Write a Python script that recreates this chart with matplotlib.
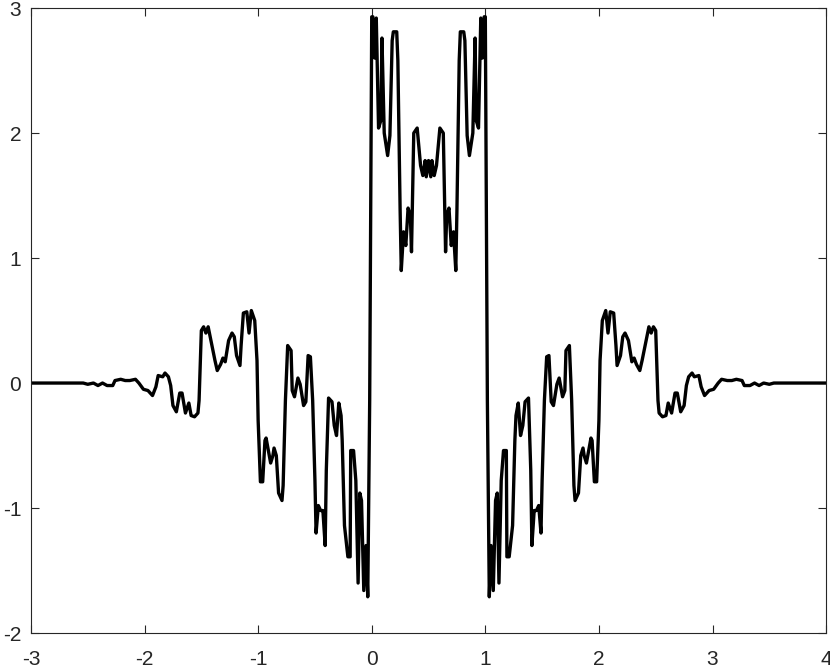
import matplotlib
matplotlib.use("Agg")
import matplotlib.pyplot as plt

# curve, left half (x from -3 to 0.5)
x_left = [-3.0, -2.54, -2.50, -2.45, -2.41, -2.37, -2.33, -2.28, -2.26, -2.21,
          -2.17, -2.13, -2.08, -2.05, -2.01, -1.97, -1.93, -1.90, -1.88, -1.84,
          -1.82, -1.79, -1.77, -1.75, -1.72, -1.69, -1.67, -1.64, -1.61, -1.59,
          -1.56, -1.53, -1.52, -1.50, -1.48, -1.46, -1.44, -1.42, -1.38, -1.36,
          -1.33, -1.31, -1.29, -1.26, -1.23, -1.21, -1.19, -1.16, -1.15, -1.13,
          -1.10, -1.08, -1.06, -1.03, -1.01, -1.00, -0.98, -0.96, -0.94, -0.93,
          -0.91, -0.89, -0.87, -0.86, -0.84, -0.82, -0.79, -0.78, -0.76, -0.74,
          -0.71, -0.70, -0.68, -0.65, -0.63, -0.60, -0.58, -0.56, -0.54, -0.52,
          -0.50, -0.49, -0.47, -0.45, -0.43, -0.41, -0.40, -0.38, -0.35, -0.33,
          -0.31, -0.29, -0.27, -0.26, -0.24, -0.21, -0.19, -0.185, -0.16, -0.14,
          -0.12, -0.105, -0.09, -0.07, -0.05, -0.035, -0.018, 0.0, 0.01, 0.026,
          0.04, 0.06, 0.08, 0.09, 0.11, 0.12, 0.14, 0.16, 0.18, 0.19,
          0.22, 0.23, 0.25, 0.26, 0.28, 0.30, 0.32, 0.34, 0.35, 0.37,
          0.40, 0.41, 0.43, 0.45, 0.47, 0.48, 0.50]
y_left = [0.0, 0.0, -0.01, 0.0, -0.02, 0.0, -0.02, -0.02, 0.02, 0.03,
          0.02, 0.02, 0.03, 0.0, -0.05, -0.06, -0.10, -0.03, 0.06, 0.05,
          0.08, 0.05, -0.02, -0.18, -0.23, -0.08, -0.08, -0.24, -0.16, -0.26,
          -0.27, -0.24, -0.14, 0.42, 0.45, 0.40, 0.45, 0.36, 0.18, 0.10,
          0.15, 0.20, 0.17, 0.34, 0.40, 0.37, 0.22, 0.14, 0.30, 0.56,
          0.57, 0.40, 0.58, 0.50, 0.18, -0.30, -0.79, -0.79, -0.46, -0.44,
          -0.54, -0.64, -0.58, -0.52, -0.58, -0.88, -0.94, -0.82, -0.14, 0.30,
          0.26, -0.06, -0.11, 0.04, -0.01, -0.18, -0.15, 0.22, 0.21, -0.14,
          -0.78, -1.20, -0.98, -1.02, -1.02, -1.30, -0.70, -0.12, -0.15, -0.34,
          -0.42, -0.16, -0.26, -0.46, -1.14, -1.39, -1.39, -0.54, -0.54, -0.78,
          -1.60, -0.88, -0.94, -1.66, -1.30, -1.71, -0.14, 2.93, 2.93, 2.60,
          2.92, 2.04, 2.10, 2.76, 2.00, 1.94, 1.82, 1.98, 2.74, 2.81,
          2.81, 2.58, 1.38, 0.90, 1.21, 1.10, 1.40, 1.34, 1.05, 2.00,
          2.04, 1.94, 1.74, 1.66, 1.78, 1.65, 1.78]

# right half (x from 0.5 to 4), the same shape seen mirrored about x = 0.5
x_right = [0.52, 0.53, 0.55, 0.57, 0.59, 0.60, 0.63, 0.65, 0.66, 0.68,
           0.70, 0.72, 0.74, 0.75, 0.77, 0.78, 0.81, 0.82, 0.84, 0.86,
           0.88, 0.89, 0.91, 0.92, 0.94, 0.96, 0.974, 0.99, 1.0, 1.018,
           1.035, 1.05, 1.07, 1.09, 1.105, 1.12, 1.14, 1.16, 1.185, 1.19,
           1.21, 1.24, 1.26, 1.27, 1.29, 1.31, 1.33, 1.35, 1.38, 1.40,
           1.41, 1.43, 1.45, 1.47, 1.49, 1.50, 1.52, 1.54, 1.56, 1.58,
           1.60, 1.63, 1.65, 1.68, 1.70, 1.71, 1.74, 1.76, 1.78, 1.79,
           1.82, 1.84, 1.86, 1.87, 1.89, 1.91, 1.93, 1.94, 1.96, 1.98,
           2.00, 2.01, 2.03, 2.06, 2.08, 2.10, 2.13, 2.15, 2.16, 2.19,
           2.21, 2.23, 2.26, 2.29, 2.31, 2.33, 2.36, 2.38, 2.42, 2.44,
           2.46, 2.48, 2.50, 2.52, 2.53, 2.56, 2.59, 2.61, 2.64, 2.67,
           2.69, 2.72, 2.75, 2.77, 2.79, 2.82, 2.84, 2.88, 2.90, 2.93,
           2.97, 3.01, 3.05, 3.08, 3.13, 3.17, 3.21, 3.26, 3.28, 3.33,
           3.37, 3.41, 3.45, 3.50, 3.54, 4.0]
y_right = [1.65, 1.78, 1.66, 1.74, 1.94, 2.04, 2.00, 1.05, 1.34, 1.40,
           1.10, 1.21, 0.90, 1.38, 2.58, 2.81, 2.81, 2.74, 1.98, 1.82,
           1.94, 2.00, 2.76, 2.10, 2.04, 2.92, 2.60, 2.93, 2.93, -0.14,
           -1.71, -1.30, -1.66, -0.94, -0.88, -1.60, -0.78, -0.54, -0.54, -1.39,
           -1.39, -1.14, -0.46, -0.26, -0.16, -0.42, -0.34, -0.15, -0.12, -0.70,
           -1.30, -1.02, -1.02, -0.98, -1.20, -0.78, -0.14, 0.21, 0.22, -0.15,
           -0.18, -0.01, 0.04, -0.11, -0.06, 0.26, 0.30, -0.14, -0.82, -0.94,
           -0.88, -0.58, -0.52, -0.58, -0.64, -0.54, -0.44, -0.46, -0.79, -0.79,
           -0.30, 0.18, 0.50, 0.58, 0.40, 0.57, 0.56, 0.30, 0.14, 0.22,
           0.37, 0.40, 0.34, 0.17, 0.20, 0.15, 0.10, 0.18, 0.36, 0.45,
           0.40, 0.45, 0.42, -0.14, -0.24, -0.27, -0.26, -0.16, -0.24, -0.08,
           -0.08, -0.23, -0.18, -0.02, 0.05, 0.08, 0.05, 0.06, -0.03, -0.10,
           -0.06, -0.05, 0.0, 0.03, 0.02, 0.02, 0.03, 0.02, -0.02, -0.02,
           0.0, -0.02, 0.0, -0.01, 0.0, 0.0]

x_ticks = [-3, -2, -1, 0, 1, 2, 3, 4]
y_ticks = [-2, -1, 0, 1, 2, 3]

plt.rcParams["font.family"] = ["Liberation Sans", "DejaVu Sans"]
plt.rcParams["axes.unicode_minus"] = False

fig = plt.figure(figsize=(8.30, 6.72), dpi=100)
ax = fig.add_axes([0.0373, 0.058, 0.958, 0.930])

ax.plot(x_left + x_right, y_left + y_right, color="black", lw=2.4,
        solid_joinstyle="round")

ax.set_xlim(-3, 4)
ax.set_ylim(-2, 3)
ax.set_xticks(x_ticks)
ax.set_yticks(y_ticks)
ax.tick_params(direction="in", length=6, width=0.8, colors="#262626",
               labelsize=15, top=True, right=True)
ax.tick_params(axis="x", pad=12)
ax.tick_params(axis="y", pad=7)
for side in ax.spines.values():
    side.set_color("#262626")
    side.set_linewidth(0.8)

fig.savefig("out.png", dpi=100)
